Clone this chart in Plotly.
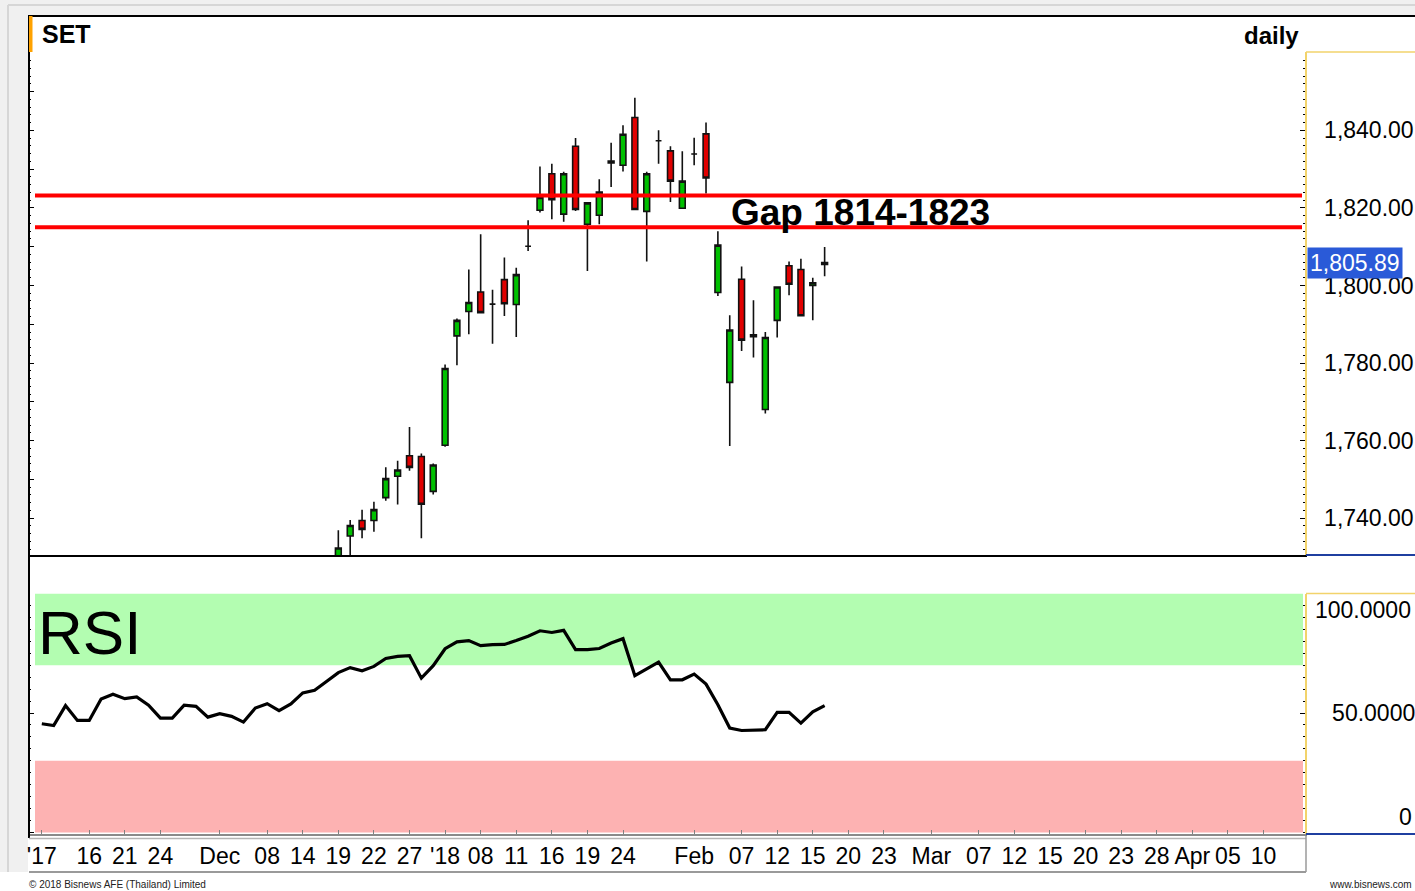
import pandas as pd
import plotly.graph_objects as go

W, H = 1415, 891
FONT = "Liberation Sans, Arial, sans-serif"

# ---------------- data ----------------
holidays = ["2017-12-05", "2017-12-11", "2018-01-01", "2018-01-02"]
calendar = [d.strftime("%Y-%m-%d") for d in pd.bdate_range("2017-11-10", "2018-04-16")]
calendar = [d for d in calendar if d not in holidays]
pos = {d: i for i, d in enumerate(calendar)}

dates = ["2017-12-19", "2017-12-20", "2017-12-21", "2017-12-22", "2017-12-25", "2017-12-26",
         "2017-12-27", "2017-12-28", "2017-12-29", "2018-01-03", "2018-01-04", "2018-01-05",
         "2018-01-08", "2018-01-09", "2018-01-10", "2018-01-11", "2018-01-12", "2018-01-15",
         "2018-01-16", "2018-01-17", "2018-01-18", "2018-01-19", "2018-01-22", "2018-01-23",
         "2018-01-24", "2018-01-25", "2018-01-26", "2018-01-29", "2018-01-30", "2018-01-31",
         "2018-02-01", "2018-02-02", "2018-02-05", "2018-02-06", "2018-02-07", "2018-02-08",
         "2018-02-09", "2018-02-12", "2018-02-13", "2018-02-14", "2018-02-15", "2018-02-16"]
open_ = [1729.0, 1735.4, 1739.4, 1739.4, 1745.3, 1750.8, 1756.1, 1755.9, 1746.9, 1758.8,
         1787.0, 1793.3, 1798.3, 1795.2, 1801.5, 1795.1, 1810.1, 1819.4, 1828.8, 1818.4,
         1835.9, 1815.8, 1818.1, 1831.6, 1831.0, 1843.3, 1819.1, 1837.3, 1834.7, 1819.9,
         1833.9, 1839.1, 1798.2, 1775.0, 1801.6, 1787.3, 1768.0, 1791.0, 1805.1, 1804.1,
         1800.0, 1805.4]
high = [1736.9, 1739.5, 1742.2, 1744.2, 1753.1, 1754.8, 1763.5, 1756.7, 1754.1, 1779.6,
        1791.5, 1804.1, 1813.2, 1798.9, 1807.2, 1804.6, 1816.8, 1830.7, 1831.4, 1829.3,
        1838.0, 1821.5, 1827.4, 1836.8, 1841.3, 1848.4, 1829.3, 1840.0, 1835.9, 1834.6,
        1838.1, 1842.0, 1814.0, 1792.3, 1804.9, 1796.2, 1788.0, 1799.8, 1806.2, 1806.9,
        1802.0, 1809.9]
low = [1727.0, 1729.5, 1734.8, 1736.5, 1744.5, 1743.5, 1752.2, 1734.8, 1746.1, 1758.4,
       1779.4, 1787.4, 1793.0, 1785.0, 1792.1, 1786.7, 1808.9, 1818.8, 1817.1, 1816.4,
       1819.2, 1803.7, 1815.8, 1825.4, 1829.4, 1819.4, 1806.2, 1831.4, 1821.5, 1819.9,
       1831.0, 1823.7, 1797.3, 1758.6, 1783.1, 1781.4, 1767.0, 1786.6, 1797.5, 1792.0,
       1791.0, 1802.4]
close = [1732.3, 1738.1, 1737.1, 1742.2, 1750.2, 1752.4, 1753.1, 1743.6, 1753.7, 1778.6,
         1791.0, 1795.6, 1793.0, 1795.2, 1795.3, 1802.8, 1810.1, 1822.7, 1822.1, 1828.8,
         1819.6, 1821.3, 1824.1, 1832.1, 1839.0, 1819.6, 1828.8, 1837.3, 1826.9, 1826.9,
         1833.9, 1827.7, 1810.4, 1788.5, 1785.9, 1786.8, 1786.6, 1799.6, 1800.3, 1792.2,
         1800.7, 1805.89]

# RSI from 2017-11-10 to 2018-02-16 (one value per trading day)
rsi_values = [45.5, 44.8, 53.1, 46.9, 46.9, 55.9, 57.9, 56.0, 56.7, 53.3,
              47.9, 47.9, 53.3, 52.8, 48.3, 49.7, 48.6, 46.2, 52.1, 53.9,
              51.0, 53.8, 58.4, 59.5, 63.2, 66.9, 69.0, 67.7, 69.5, 72.8,
              73.7, 74.0, 64.6, 69.8, 76.9, 79.8, 80.3, 78.2, 78.6, 78.7,
              80.3, 82.1, 84.4, 83.7, 84.6, 76.5, 76.5, 77.0, 79.3, 81.1,
              65.6, 68.4, 71.3, 63.9, 63.9, 66.3, 62.1, 53.5, 43.7, 42.7,
              42.7, 43.0, 50.3, 50.3, 45.8, 50.5, 53.1]
rsi_dates = calendar[:len(rsi_values)]

gap_levels = [1823.2, 1815.0]
gap_label = "Gap 1814-1823"
overbought = [70, 100]
oversold = [0, 30]

price_ticks = [1740, 1760, 1780, 1800, 1820, 1840]
tick_dates = ["2017-11-10", "2017-11-16", "2017-11-21", "2017-11-24", "2017-12-01", "2017-12-08",
              "2017-12-14", "2017-12-19", "2017-12-22", "2017-12-27", "2018-01-03", "2018-01-08",
              "2018-01-11", "2018-01-16", "2018-01-19", "2018-01-24", "2018-02-01", "2018-02-07",
              "2018-02-12", "2018-02-15", "2018-02-20", "2018-02-23", "2018-03-01", "2018-03-07",
              "2018-03-12", "2018-03-15", "2018-03-20", "2018-03-23", "2018-03-28", "2018-04-02",
              "2018-04-05", "2018-04-10"]
tick_labels = ["'17", "16", "21", "24", "Dec", "08", "14", "19", "22", "27", "'18", "08",
               "11", "16", "19", "24", "Feb", "07", "12", "15", "20", "23", "Mar", "07",
               "12", "15", "20", "23", "28", "Apr", "05", "10"]

# ---------------- layout helpers ----------------
def fx(px):
    return px / W


def fy(py):
    return 1 - py / H


X_LEFT, X_RIGHT = 29, 1305
PRICE_TOP, PRICE_BOT = 52, 555
RSI_TOP, RSI_BOT = 593.5, 834
x_range = [-1.08, 106.5]
price_range = [1730.5, 1860.2]
rsi_range = [-0.6, 100]
day_px = (X_RIGHT - X_LEFT) / (x_range[1] - x_range[0])


def idx_at(px):
    return x_range[0] + (px - X_LEFT) / day_px


band_x = [idx_at(35), idx_at(1303)]
gap_x = [idx_at(35), idx_at(1302)]

fig = go.Figure()

# price panel: candles on the left (main) axis, gap lines on the right (labelled) axis
fig.add_trace(go.Candlestick(
    x=[pos[d] for d in dates], open=open_, high=high, low=low, close=close,
    xaxis="x", yaxis="y",
    increasing=dict(fillcolor="#00c000", line=dict(color="#111111", width=1.6)),
    decreasing=dict(fillcolor="#e00000", line=dict(color="#111111", width=1.6)),
    whiskerwidth=0, showlegend=False, hoverinfo="skip"))
for lvl in gap_levels:
    fig.add_trace(go.Scatter(x=gap_x, y=[lvl, lvl], mode="lines", xaxis="x", yaxis="y2",
                             line=dict(color="#ff0000", width=4), showlegend=False, hoverinfo="skip"))

# RSI panel
fig.add_trace(go.Scatter(x=[band_x[0], band_x[1], band_x[1], band_x[0], band_x[0]],
                         y=[overbought[0], overbought[0], overbought[1], overbought[1], overbought[0]],
                         mode="lines", fill="toself", fillcolor="#b3fdb1", line=dict(width=0),
                         xaxis="x2", yaxis="y3", showlegend=False, hoverinfo="skip"))
fig.add_trace(go.Scatter(x=[band_x[0], band_x[1], band_x[1], band_x[0], band_x[0]],
                         y=[oversold[0], oversold[0], oversold[1], oversold[1], oversold[0]],
                         mode="lines", fill="toself", fillcolor="#fdb2b2", line=dict(width=0),
                         xaxis="x2", yaxis="y4", showlegend=False, hoverinfo="skip"))
fig.add_trace(go.Scatter(
    x=[pos[d] for d in rsi_dates], y=rsi_values, mode="lines",
    line=dict(color="black", width=3.2), xaxis="x2", yaxis="y5",
    showlegend=False, hoverinfo="skip"))
# invisible copy so that the "0" label axis is drawn
fig.add_trace(go.Scatter(
    x=[pos[d] for d in rsi_dates], y=rsi_values, mode="lines", opacity=0,
    line=dict(color="black", width=0), xaxis="x2", yaxis="y6",
    showlegend=False, hoverinfo="skip"))

tickfont = dict(family=FONT, size=23, color="black")
common = dict(showgrid=False, zeroline=False, automargin=False, fixedrange=True)

layout = dict(
    template="none",
    width=W, height=H, autosize=False, margin=dict(l=0, r=0, t=0, b=0, pad=0),
    paper_bgcolor="white", plot_bgcolor="rgba(0,0,0,0)",
    font=dict(family=FONT, color="black"),
    showlegend=False, hovermode=False,
    xaxis=dict(domain=[fx(X_LEFT), fx(X_RIGHT)], range=x_range, anchor="y",
               showticklabels=False, ticks="",
               showline=True, linecolor="black", linewidth=2,
               rangeslider=dict(visible=False), **common),
    yaxis=dict(domain=[fy(PRICE_BOT), fy(PRICE_TOP)], range=price_range, anchor="x",
               side="left", showticklabels=False,
               ticks="inside", ticklen=5, tickwidth=1, tickcolor="black", tick0=1740, dtick=10,
               minor=dict(ticks="inside", ticklen=2, tickcolor="black", dtick=2, showgrid=False),
               showline=False, **common),
    yaxis2=dict(overlaying="y", anchor="x", side="right", range=price_range,
                tickmode="array", tickvals=price_ticks, tickformat=",.2f",
                ticks="inside", ticklen=5, tickcolor="black",
                minor=dict(tickmode="linear", tick0=1740, dtick=2, ticks="inside", ticklen=2,
                           tickcolor="black", showgrid=False),
                showline=True, linecolor="#f2d36b", linewidth=1.5,
                tickfont=tickfont, ticklabelstandoff=13, **common),
    xaxis2=dict(domain=[fx(X_LEFT), fx(X_RIGHT)], range=x_range, anchor="y3", matches="x",
                tickmode="array",
                tickvals=[pos[d] for d in tick_dates], ticktext=tick_labels, tickangle=0,
                ticks="inside", ticklen=4, tickcolor="#808080",
                showline=True, linecolor="#8a8a8a", linewidth=2,
                tickfont=tickfont, ticklabelstandoff=0, **common),
    yaxis3=dict(domain=[fy(RSI_BOT), fy(RSI_TOP)], range=rsi_range, anchor="x2", side="right",
                tickmode="array", tickvals=[50],
                ticktext=["50.0000"], ticks="inside", ticklen=5, tickcolor="black",
                minor=dict(tickmode="linear", tick0=0, dtick=5, ticks="inside", ticklen=2,
                           tickcolor="black", showgrid=False),
                showline=True, linecolor="#f2d36b", linewidth=1.5,
                tickfont=tickfont, ticklabelstandoff=21, **common),
    yaxis4=dict(overlaying="y3", anchor="x2", side="left", range=rsi_range,
                showticklabels=False, tick0=0, dtick=50,
                ticks="inside", ticklen=5, tickcolor="black",
                minor=dict(ticks="inside", ticklen=2, tickcolor="black", dtick=5, showgrid=False),
                showline=False, **common),
    yaxis5=dict(overlaying="y3", anchor="x2", side="right", range=rsi_range,
                tickmode="array", tickvals=[100],
                ticktext=["100.0000"], ticks="", ticklabelposition="outside bottom",
                showline=False, tickfont=tickfont, ticklabelstandoff=9, **common),
    yaxis6=dict(overlaying="y3", anchor="x2", side="right", range=rsi_range,
                tickmode="array", tickvals=[0],
                ticktext=["0"], ticks="", ticklabelposition="outside top",
                showline=False, tickfont=tickfont, ticklabelstandoff=93, **common),
)
fig.update_layout(**layout)

shapes = []
GRAY = "#f0f0f0"
# outer window frame
shapes.append(dict(type="rect", xref="paper", yref="paper", x0=0, x1=1, y0=fy(16), y1=1,
                   fillcolor=GRAY, line=dict(width=0), layer="below"))
shapes.append(dict(type="rect", xref="paper", yref="paper", x0=0, x1=fx(28), y0=fy(872), y1=1,
                   fillcolor=GRAY, line=dict(width=0), layer="below"))
shapes.append(dict(type="line", xref="paper", yref="paper", x0=fx(8), x1=1, y0=fy(5), y1=fy(5),
                   line=dict(color="#d6d6d6", width=2)))
shapes.append(dict(type="line", xref="paper", yref="paper", x0=fx(8), x1=fx(8), y0=fy(5), y1=fy(872),
                   line=dict(color="#d6d6d6", width=2)))
# top border and left axis line
shapes.append(dict(type="line", xref="paper", yref="paper", x0=fx(28), x1=1, y0=fy(16), y1=fy(16),
                   line=dict(color="black", width=2)))
shapes.append(dict(type="line", xref="paper", yref="paper", x0=fx(29), x1=fx(29), y0=fy(16), y1=fy(838),
                   line=dict(color="black", width=2)))
# orange title marker
shapes.append(dict(type="rect", xref="paper", yref="paper", x0=fx(29), x1=fx(32.5), y0=fy(52), y1=fy(16),
                   fillcolor="#ffa200", line=dict(width=0)))
# right axis frames
shapes.append(dict(type="line", xref="paper", yref="paper", x0=fx(1306), x1=1, y0=fy(PRICE_TOP), y1=fy(PRICE_TOP),
                   line=dict(color="#f2d36b", width=1.5)))
shapes.append(dict(type="line", xref="paper", yref="paper", x0=fx(1306), x1=1, y0=fy(PRICE_BOT), y1=fy(PRICE_BOT),
                   line=dict(color="#1f3fa0", width=2)))
shapes.append(dict(type="line", xref="paper", yref="paper", x0=fx(1306), x1=1, y0=fy(RSI_TOP), y1=fy(RSI_TOP),
                   line=dict(color="#f2d36b", width=1.5)))
shapes.append(dict(type="line", xref="paper", yref="paper", x0=fx(1306), x1=1, y0=fy(RSI_BOT), y1=fy(RSI_BOT),
                   line=dict(color="#1f3fa0", width=2)))
# date band frame
shapes.append(dict(type="line", xref="paper", yref="paper", x0=fx(29), x1=fx(1306), y0=fy(838.5), y1=fy(838.5),
                   line=dict(color="#b4b4b4", width=1.5)))
shapes.append(dict(type="line", xref="paper", yref="paper", x0=fx(29), x1=fx(1306), y0=fy(872), y1=fy(872),
                   line=dict(color="#9a9a9a", width=2)))
shapes.append(dict(type="line", xref="paper", yref="paper", x0=fx(1306), x1=fx(1306), y0=fy(836), y1=fy(872),
                   line=dict(color="#9a9a9a", width=1.5)))
fig.update_layout(shapes=shapes)

annotations = [
    dict(text="<b>SET</b>", xref="paper", yref="paper", x=fx(40), y=fy(34), xanchor="left",
         yanchor="middle", showarrow=False, font=dict(family=FONT, size=25, color="black")),
    dict(text="<b>daily</b>", xref="paper", yref="paper", x=fx(1301), y=fy(35), xanchor="right",
         yanchor="middle", showarrow=False, font=dict(family=FONT, size=24, color="black")),
    dict(text="<b>" + gap_label + "</b>", xref="paper", yref="paper", x=fx(860), y=fy(212),
         xanchor="center", yanchor="middle", showarrow=False,
         font=dict(family=FONT, size=37, color="black")),
    dict(text="RSI", xref="paper", yref="paper", x=fx(36), y=fy(632), xanchor="left",
         yanchor="middle", showarrow=False, font=dict(family=FONT, size=62, color="black")),
    dict(text=f"{close[-1]:,.2f}", xref="paper", yref="y", x=fx(1307), y=close[-1],
         xanchor="left", yanchor="middle", showarrow=False, bgcolor="#2a5ad8", borderpad=2,
         font=dict(family=FONT, size=23, color="white")),
    dict(text="© 2018 Bisnews AFE (Thailand) Limited", xref="paper", yref="paper", x=fx(27),
         y=fy(884), xanchor="left", yanchor="middle", showarrow=False,
         font=dict(family=FONT, size=10, color="#222222")),
    dict(text="www.bisnews.com", xref="paper", yref="paper", x=fx(1414), y=fy(884),
         xanchor="right", yanchor="middle", showarrow=False,
         font=dict(family=FONT, size=10, color="#222222")),
]
fig.update_layout(annotations=annotations)

fig.write_html("out.html", config={"displayModeBar": False, "staticPlot": True},
               post_script="document.body.style.margin='0';document.body.style.overflow='hidden';")
